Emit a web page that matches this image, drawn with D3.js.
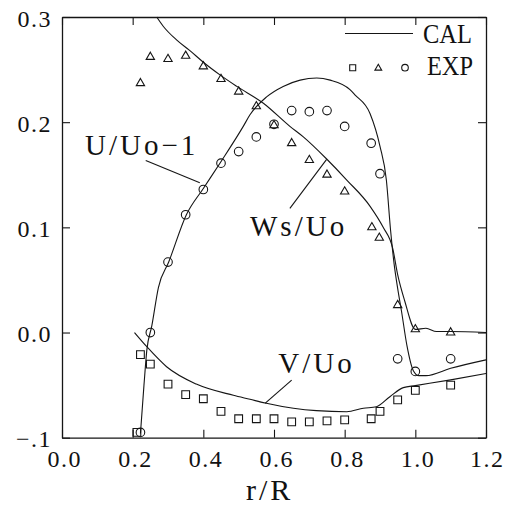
<!DOCTYPE html>
<html>
<head>
<meta charset="utf-8">
<script src="https://cdn.jsdelivr.net/npm/d3@7"></script>
<style>
  html, body { margin: 0; padding: 0; background: #fff; }
  svg { display: block; }
  svg text { font-family: "Liberation Serif", "DejaVu Serif", serif; fill: #111; }
</style>
</head>
<body>
<svg id="chart" width="506" height="511"></svg>
<script>
// ---- axis ticks ----
const xTicks = [0.0, 0.2, 0.4, 0.6, 0.8, 1.0, 1.2];
const xTickLabels = ["0.0", "0.2", "0.4", "0.6", "0.8", "1.0", "1.2"];
const yTicks = [-0.1, 0.0, 0.1, 0.2, 0.3];
const yTickLabels = ["−.1", "0.0", "0.1", "0.2", "0.3"];

// ---- calculated profiles (CAL) ----
const uCalR = [0.222, 0.232, 0.240, 0.254, 0.273, 0.302, 0.352, 0.400, 0.447, 0.513, 0.532, 0.579, 0.626, 0.674, 0.721, 0.759, 0.815, 0.829, 0.872, 0.900, 0.918, 0.930, 0.940, 0.950, 0.961, 0.976, 0.994, 1.010, 1.030, 1.100, 1.200];
const uCalV = [-0.096, -0.050, -0.017, 0.006, 0.043, 0.067, 0.112, 0.137, 0.161, 0.196, 0.207, 0.224, 0.234, 0.240, 0.242, 0.240, 0.231, 0.226, 0.208, 0.177, 0.145, 0.097, 0.065, 0.042, 0.020, -0.012, -0.036, -0.041, -0.041, -0.034, -0.026];

const wCalR = [0.268, 0.287, 0.325, 0.362, 0.400, 0.447, 0.495, 0.570, 0.645, 0.683, 0.749, 0.806, 0.872, 0.909, 0.936, 0.950, 0.970, 1.000, 1.030, 1.060, 1.100, 1.200];
const wCalV = [0.300, 0.291, 0.278, 0.268, 0.257, 0.245, 0.234, 0.218, 0.196, 0.186, 0.165, 0.145, 0.120, 0.100, 0.080, 0.055, 0.030, 0.003, 0.004, 0.001, 0.001, 0.000];

const vCalR = [0.205, 0.240, 0.296, 0.380, 0.485, 0.532, 0.575, 0.655, 0.720, 0.806, 0.853, 0.890, 0.928, 0.966, 1.000, 1.100, 1.200];
const vCalV = [0.000, -0.0135, -0.0325, -0.049, -0.0597, -0.0635, -0.067, -0.072, -0.0743, -0.0753, -0.072, -0.0705, -0.061, -0.0524, -0.0505, -0.045, -0.039];

// ---- measured profiles (EXP) ----
// circles: U/Uo-1
const uExpR = [0.222, 0.250, 0.300, 0.350, 0.400, 0.450, 0.500, 0.550, 0.600, 0.650, 0.700, 0.750, 0.800, 0.875, 0.900, 0.950, 1.000, 1.100];
const uExpV = [-0.095, 0.000, 0.067, 0.112, 0.136, 0.161, 0.172, 0.186, 0.198, 0.211, 0.210, 0.211, 0.196, 0.180, 0.151, -0.025, -0.037, -0.025];
// triangles: Ws/Uo
const wExpR = [0.222, 0.250, 0.300, 0.350, 0.400, 0.450, 0.500, 0.550, 0.600, 0.650, 0.700, 0.750, 0.800, 0.877, 0.898, 0.950, 1.000, 1.100];
const wExpV = [0.237, 0.262, 0.260, 0.263, 0.253, 0.241, 0.229, 0.215, 0.197, 0.180, 0.164, 0.150, 0.134, 0.100, 0.090, 0.026, 0.003, 0.000];
// squares: V/Uo
const vExpR = [0.212, 0.222, 0.250, 0.300, 0.350, 0.400, 0.450, 0.500, 0.550, 0.600, 0.650, 0.700, 0.750, 0.800, 0.875, 0.900, 0.950, 1.000, 1.100];
const vExpV = [-0.095, -0.021, -0.030, -0.049, -0.059, -0.063, -0.075, -0.082, -0.082, -0.082, -0.085, -0.085, -0.084, -0.083, -0.082, -0.075, -0.064, -0.055, -0.050];

// ---- curve labels with leader lines ----
const labelText = ["U/Uo−1", "Ws/Uo", "V/Uo"];
const labelAt   = [[0.065, 0.169], [0.532, 0.092], [0.612, -0.0385]];
const leaderFrom = [[0.237, 0.1636], [0.645, 0.118], [0.650, -0.0452]];
const leaderTo   = [[0.390, 0.1424], [0.749, 0.1646], [0.5746, -0.0673]];

const xTitle = "r/R";
const legendNames = ["CAL", "EXP"];

// ---- layout ----
const svg = d3.select("#chart");
const plotL = 62, plotR = 486, plotT = 17, plotB = 437.7;

const x = d3.scaleLinear().domain([0, 1.2]).range([plotL, plotR]);
const y = d3.scaleLinear().domain([-0.1, 0.3]).range([plotB, plotT]);

const ink = "#151515";
const serif = "'Liberation Serif', 'DejaVu Serif', serif";
const tickFont = 24, tickSpacing = 1.5;

// axes: inward ticks on all four sides, domains form the frame
function styleAxis(g) {
  g.attr("font-family", null).attr("font-size", null);
  g.selectAll("path.domain").attr("stroke", ink).attr("stroke-width", 1.3);
  g.selectAll(".tick line").attr("stroke", ink).attr("stroke-width", 1.1);
}

const gBottom = svg.append("g")
  .attr("transform", `translate(0,${plotB})`)
  .call(d3.axisBottom(x).tickValues(xTicks).tickSizeInner(-8).tickSizeOuter(0)
        .tickPadding(12).tickFormat((d, i) => xTickLabels[i]));
gBottom.call(styleAxis);
gBottom.selectAll(".tick text")
  .attr("font-size", tickFont).attr("letter-spacing", tickSpacing)
  .attr("dx", (d, i) => i === xTicks.length - 1 ? tickSpacing / 2 : tickSpacing / 2 + 1.5)
  .style("font-family", serif).attr("fill", ink);

const gTop = svg.append("g")
  .attr("transform", `translate(0,${plotT})`)
  .call(d3.axisTop(x).tickValues(xTicks).tickSizeInner(-8).tickSizeOuter(0).tickFormat(""));
gTop.call(styleAxis);

const gLeft = svg.append("g")
  .attr("transform", `translate(${plotL},0)`)
  .call(d3.axisLeft(y).tickValues(yTicks).tickSizeInner(-8).tickSizeOuter(0)
        .tickPadding(10).tickFormat((d, i) => yTickLabels[i]));
gLeft.call(styleAxis);
gLeft.selectAll(".tick text")
  .attr("font-size", tickFont).attr("letter-spacing", tickSpacing)
  .attr("dy", "0.38em")
  .style("font-family", serif).attr("fill", ink);

const gRight = svg.append("g")
  .attr("transform", `translate(${plotR},0)`)
  .call(d3.axisRight(y).tickValues(yTicks).tickSizeInner(-8).tickSizeOuter(0).tickFormat(""));
gRight.call(styleAxis);

// axis title
svg.append("text")
  .attr("x", 246).attr("y", 500)
  .attr("font-size", 30).attr("letter-spacing", 3)
  .style("font-family", serif)
  .text(xTitle);

// ---- calculated curves ----
const line = d3.line()
  .x(d => x(d[0])).y(d => y(d[1]))
  .curve(d3.curveMonotoneX);

const calSeries = [
  d3.zip(uCalR, uCalV),
  d3.zip(wCalR, wCalV),
  d3.zip(vCalR, vCalV)
];
svg.append("g").selectAll("path")
  .data(calSeries).join("path")
  .attr("d", line)
  .attr("fill", "none").attr("stroke", ink).attr("stroke-width", 1.1);

// ---- measured points ----
const gPts = svg.append("g").attr("fill", "none").attr("stroke", ink).attr("stroke-width", 1.1);

gPts.selectAll("path.sq")
  .data(d3.zip(vExpR, vExpV)).join("path")
  .attr("class", "sq")
  .attr("transform", d => `translate(${x(d[0])},${y(d[1])})`)
  .attr("d", d3.symbol(d3.symbolSquare, 60)());

gPts.selectAll("path.tri")
  .data(d3.zip(wExpR, wExpV)).join("path")
  .attr("class", "tri")
  .attr("transform", d => `translate(${x(d[0])},${y(d[1])})`)
  .attr("d", d3.symbol(d3.symbolTriangle, 30)());

gPts.selectAll("circle")
  .data(d3.zip(uExpR, uExpV)).join("circle")
  .attr("cx", d => x(d[0])).attr("cy", d => y(d[1]))
  .attr("r", 4.3);

// ---- curve labels and leaders ----
svg.append("g").selectAll("line")
  .data(d3.range(leaderFrom.length)).join("line")
  .attr("x1", i => x(leaderFrom[i][0])).attr("y1", i => y(leaderFrom[i][1]))
  .attr("x2", i => x(leaderTo[i][0])).attr("y2", i => y(leaderTo[i][1]))
  .attr("stroke", ink).attr("stroke-width", 1.1);

svg.append("g").selectAll("text")
  .data(d3.range(labelText.length)).join("text")
  .attr("x", i => x(labelAt[i][0])).attr("y", i => y(labelAt[i][1]))
  .attr("font-size", 29).attr("letter-spacing", 3)
  .style("font-family", serif)
  .text(i => labelText[i]);

// ---- legend ----
const lg = svg.append("g");
lg.append("line")
  .attr("x1", 345).attr("x2", 413).attr("y1", 33.5).attr("y2", 33.5)
  .attr("stroke", ink).attr("stroke-width", 1.1);
lg.append("text").attr("x", 423).attr("y", 43)
  .attr("font-size", 27).attr("textLength", 49).attr("lengthAdjust", "spacingAndGlyphs")
  .style("font-family", serif)
  .text(legendNames[0]);
lg.append("text").attr("x", 427).attr("y", 75)
  .attr("font-size", 27).attr("textLength", 46).attr("lengthAdjust", "spacingAndGlyphs")
  .style("font-family", serif)
  .text(legendNames[1]);
const lgSym = lg.append("g").attr("fill", "none").attr("stroke", ink).attr("stroke-width", 1.1);
lgSym.append("path").attr("transform", "translate(352.7,67.7)")
  .attr("d", d3.symbol(d3.symbolSquare, 36)());
lgSym.append("path").attr("transform", "translate(378.3,68.2)")
  .attr("d", d3.symbol(d3.symbolTriangle, 20)());
lgSym.append("circle").attr("cx", 405).attr("cy", 67.7).attr("r", 3.3);
</script>
</body>
</html>
